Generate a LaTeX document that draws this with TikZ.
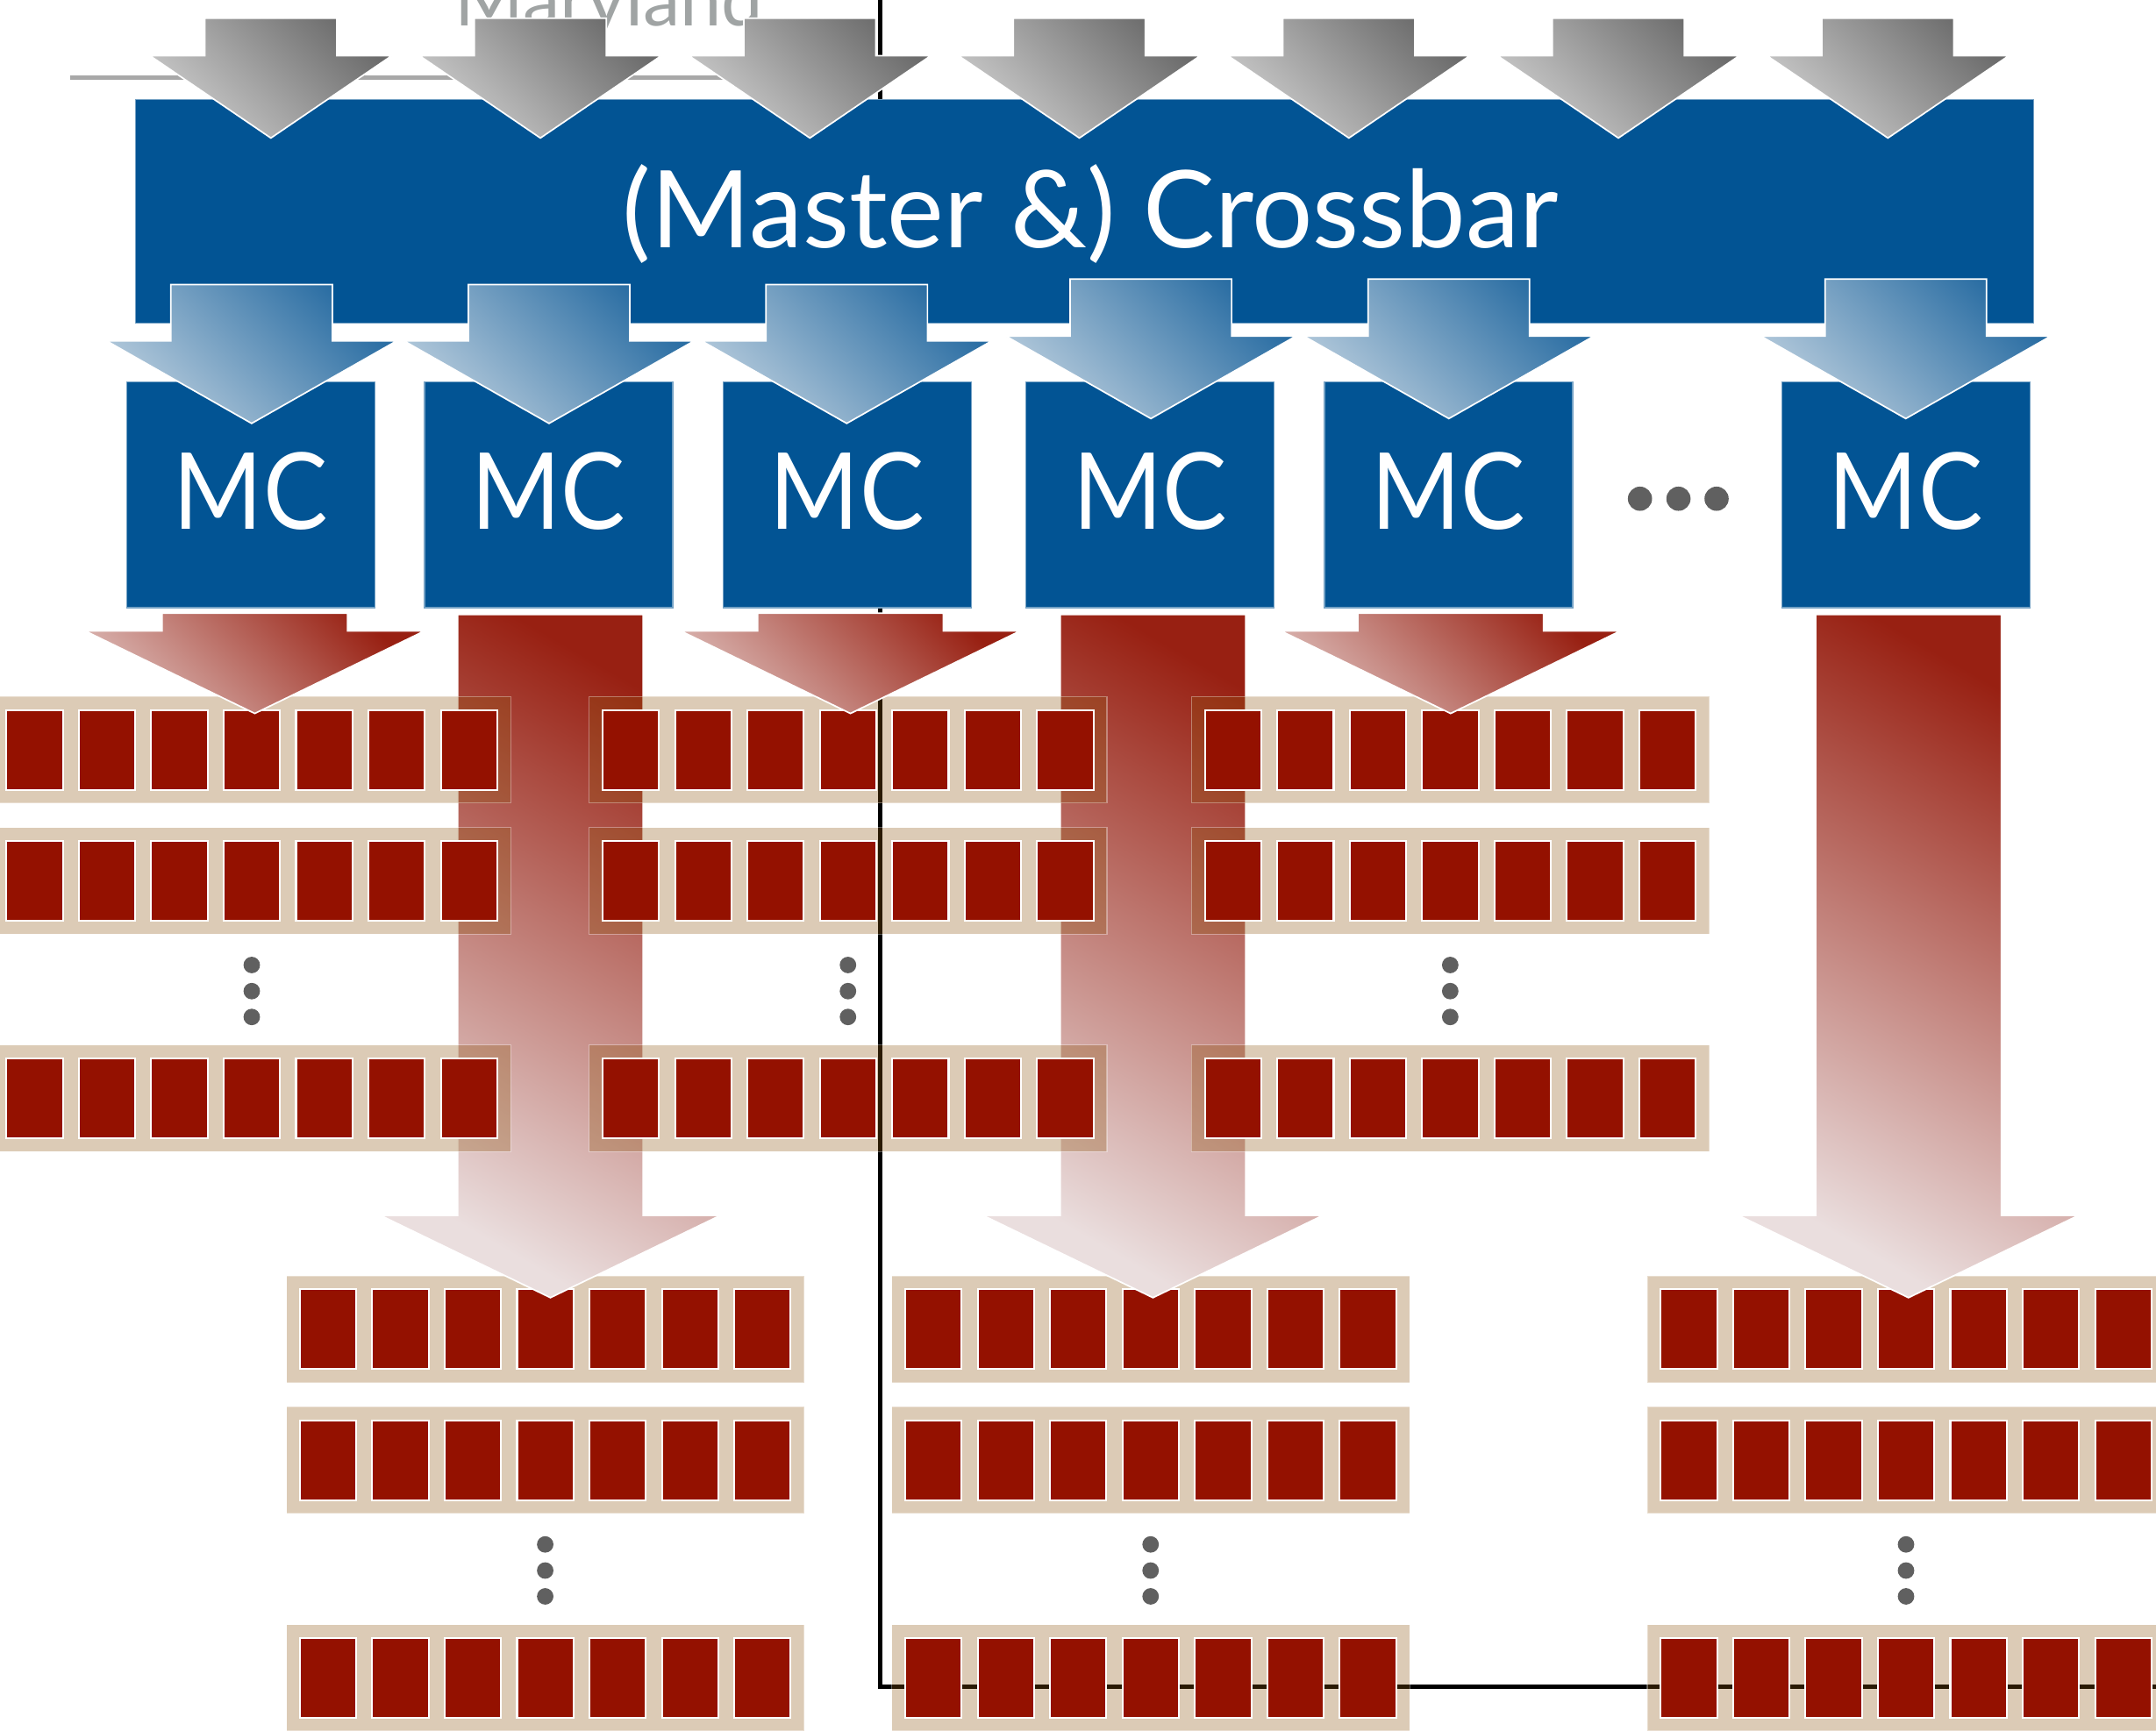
\documentclass[tikz,border=0pt]{standalone}
\usepackage{fontspec}
\setmainfont{Lato}
\usepackage{graphicx}
\definecolor{xbarblue}{RGB}{2,84,148}
\definecolor{cellred}{RGB}{148,17,0}
\definecolor{bandtan}{RGB}{140,85,16}
\definecolor{dotgrey}{RGB}{96,96,96}
\definecolor{greydark}{RGB}{108,108,108}
\definecolor{greylight}{RGB}{204,204,204}
\definecolor{bluedark}{RGB}{40,108,162}
\definecolor{bluelight}{RGB}{182,203,220}
\definecolor{reddark}{RGB}{152,32,18}
\definecolor{redlight}{RGB}{218,182,178}
\definecolor{redpale}{RGB}{234,222,222}
\definecolor{titlegrey}{RGB}{160,164,164}
\definecolor{rulegrey}{RGB}{168,168,168}

% arrow: cx, top, shoulder, tip, shaft half, head half, style
\newcommand\dnarrow[7]{%
  \path[#7] ({#1-#5},{#2}) -- ({#1+#5},{#2}) -- ({#1+#5},{#3}) -- ({#1+#6},{#3})
    -- ({#1},{#4}) -- ({#1-#6},{#3}) -- ({#1-#5},{#3}) -- cycle;}

\newcommand\memband[2]{%
  \fill[bandtan, fill opacity=0.306] ({#1},{#2}) rectangle ++(376.6,77.5);
  \draw[white, draw opacity=0.35, line width=0.8] ({#1},{#2}) rectangle ++(376.6,77.5);
  \foreach \k in {0,...,6} {
    \draw[cellbox] ({#1+9.8+52.65*\k},{#2+9.7}) rectangle ++(41,58.1);
  }}
\newcommand\memgroup[2]{%
  \memband{#1}{#2}
  \memband{#1}{#2+95.3}
  \memband{#1}{#2+253.6}
  \foreach \d in {195.3,214.3,233.1} \fill[dotgrey] ({#1+188.2},{#2+\d}) circle[radius=6pt];}

\begin{document}
\begin{tikzpicture}[x=1pt,y=-1pt,
  cellbox/.style={fill=cellred, draw=white, line width=1.3pt},
  greyarrow/.style={top color=greydark, bottom color=greylight, shading angle=-45, draw=white, line width=1.1pt},
  bluearrow/.style={top color=bluedark, bottom color=bluelight, shading angle=-45, draw=white, line width=1.1pt},
  redshort/.style={top color=reddark, bottom color=redlight, shading angle=-45, draw=white, line width=1.1pt},
  redlong/.style={top color=reddark, bottom color=redpale, shading angle=-30, draw=white, line width=1.1pt},
  bluebox/.style={fill=xbarblue, draw=xbarblue!55!white, line width=0.8pt, inner sep=0pt},
  mctext/.style={text=white, inner sep=0pt, anchor=base}]
\useasboundingbox (0,0) rectangle (1568,1259);
\clip (0,0) rectangle (1568,1259);

% header remnants
\node[text=titlegrey, inner sep=0pt, anchor=base] (title) at (443,18.7) {\resizebox{224pt}{!}{Maryland}};
\draw[rulegrey, line width=3.2pt] (51,56.5) -- (610,56.5);

% black line underneath
\coordinate (ltop) at (640,-5);
\coordinate (lbend) at (640,1227);
\coordinate (lend) at (1580,1227);
\draw[black, line width=3.2pt, line join=miter] (ltop) -- (lbend) -- (lend);

% crossbar
\node[bluebox, minimum width=1380.5pt, minimum height=162.7pt] (xbar) at (788.75,153.65) {};
\node[mctext] (xbartext) at (793,180) {\resizebox{680pt}{!}{(Master \&) Crossbar}};

% grey input arrows
\foreach \c in {197,393,589,785,981,1177,1373}
  \dnarrow{\c}{13.2}{40.5}{100.4}{48}{88}{greyarrow};

% MC boxes
\foreach \n/\c in {1/182.3,2/399,3/616,4/836.5,5/1053.5,6/1386} {
  \node[bluebox, minimum width=180.5pt, minimum height=164pt] (mc\n) at (\c,360) {};
  \node[mctext] (mct\n) at (\c,384.8) {\resizebox{112pt}{56pt}{MC}};
}
% blue arrows
\foreach \c in {183,399.3,615.8}
  \dnarrow{\c}{207}{248}{308}{58.7}{105.5}{bluearrow};
\foreach \c in {837,1053.7,1386}
  \dnarrow{\c}{203}{244.5}{304.5}{58.7}{105.5}{bluearrow};

% ellipsis between MCs
\foreach \x in {1192.7,1220.7,1248.4} \fill[dotgrey] (\x,362.8) circle[radius=8.8pt];

% bottom memory groups
\memgroup{208.3}{928.2}
\memgroup{648.6}{928.2}
\memgroup{1198}{928.2}

% long red arrows
\foreach \c in {400.3,838.5,1388}
  \dnarrow{\c}{447}{884.2}{944}{67.5}{123.5}{redlong};

% top memory groups
\memgroup{-5.1}{506.7}
\memgroup{428.5}{506.7}
\memgroup{866.5}{506.7}

% short red arrows
\foreach \c in {185.3,618.5,1055}
  \dnarrow{\c}{446}{459}{519}{67.5}{123.4}{redshort};
\end{tikzpicture}
\end{document}
